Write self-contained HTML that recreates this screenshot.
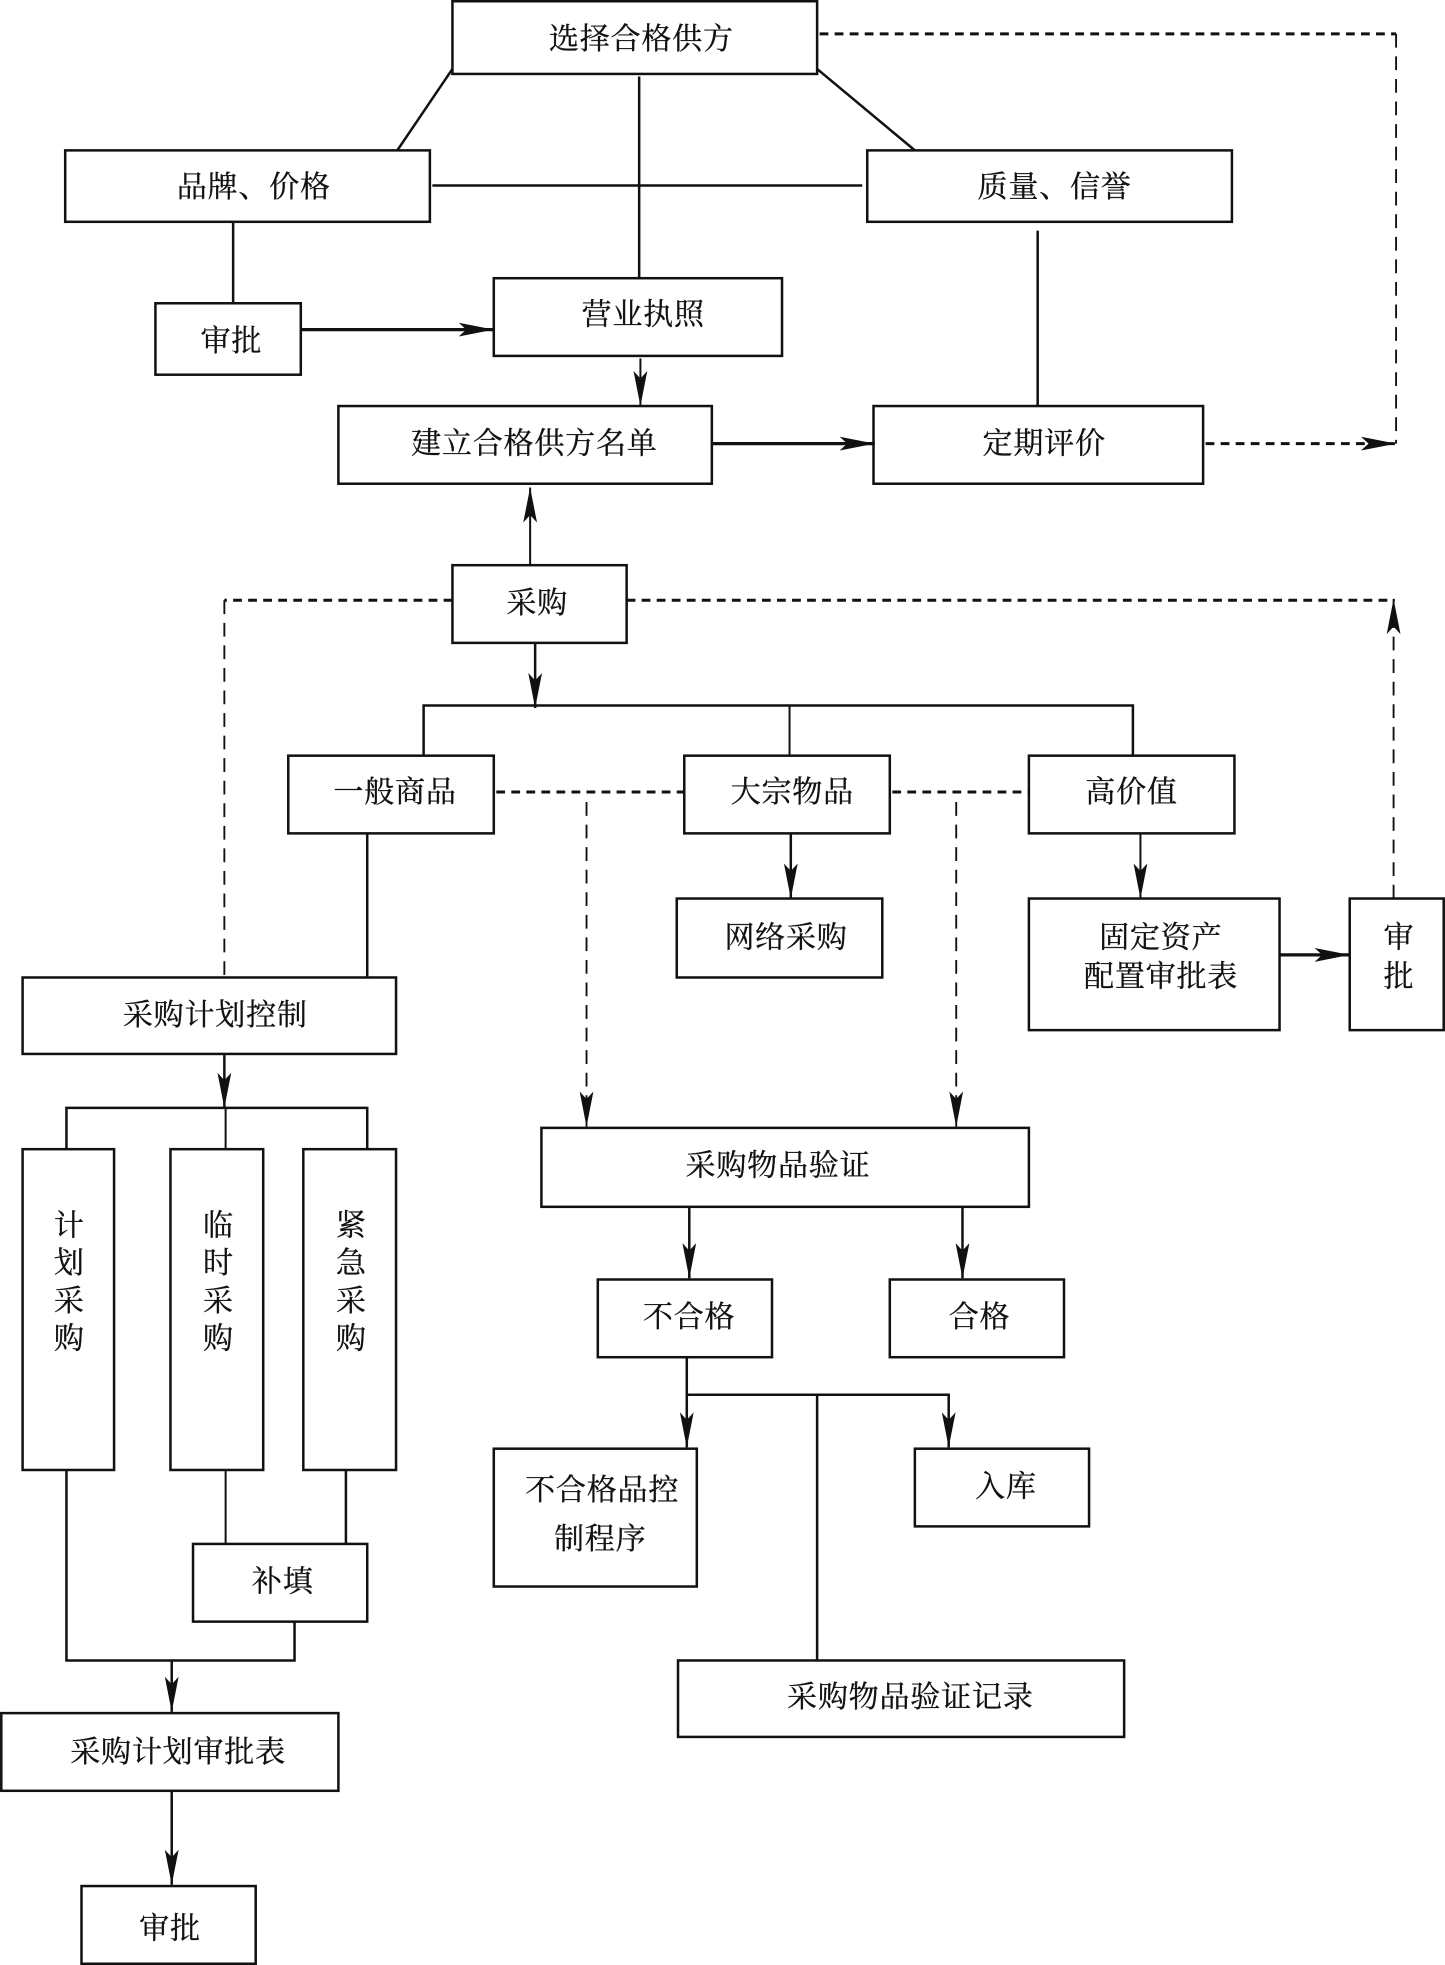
<!DOCTYPE html>
<html><head><meta charset="utf-8"><style>
html,body{margin:0;padding:0;background:#fff;width:1445px;height:1965px;overflow:hidden}
svg{display:block}
text{font-family:"Liberation Serif","Noto Serif CJK SC",serif;font-size:24px;fill:#111;stroke:#111;stroke-width:.25;letter-spacing:.6px}
rect{fill:none;stroke:#111;stroke-width:2}
line,polyline{fill:none;stroke:#111;stroke-width:2}
.d{stroke-dasharray:7 5;stroke-width:2.4}
.t{stroke-dasharray:11 7;stroke-width:1.5}
.h{stroke-width:2.6}
.n{stroke-width:1.6}
</style></head><body>
<svg width="1445" height="1965" viewBox="0 0 1153 1568" xmlns="http://www.w3.org/2000/svg">
<defs><marker id="a" markerUnits="userSpaceOnUse" markerWidth="30" markerHeight="14" refX="28" refY="7" orient="auto"><path d="M0 1.5L28 7L0 12.5L6 7Z" fill="#111"/></marker></defs>

<rect x="361" y="1" width="291" height="58"/>
<rect x="52" y="120" width="291" height="57"/>
<rect x="692" y="120" width="291" height="57"/>
<rect x="124" y="242" width="116" height="57"/>
<rect x="394" y="222" width="230" height="62"/>
<rect x="270" y="324" width="298" height="62"/>
<rect x="697" y="324" width="263" height="62"/>
<rect x="361" y="451" width="139" height="62"/>
<rect x="230" y="603" width="164" height="62"/>
<rect x="546" y="603" width="164" height="62"/>
<rect x="821" y="603" width="164" height="62"/>
<rect x="540" y="717" width="164" height="63"/>
<rect x="821" y="717" width="200" height="105"/>
<rect x="1077" y="717" width="75" height="105"/>
<rect x="18" y="780" width="298" height="61"/>
<rect x="18" y="917" width="73" height="256"/>
<rect x="136" y="917" width="74" height="256"/>
<rect x="242" y="917" width="74" height="256"/>
<rect x="432" y="900" width="389" height="63"/>
<rect x="477" y="1021" width="139" height="62"/>
<rect x="710" y="1021" width="139" height="62"/>
<rect x="394" y="1156" width="162" height="110"/>
<rect x="730" y="1156" width="139" height="62"/>
<rect x="154" y="1232" width="139" height="62"/>
<rect x="541" y="1325" width="356" height="61"/>
<rect x="1" y="1367" width="269" height="62"/>
<rect x="65" y="1505" width="139" height="62"/>

<line x1="361" y1="55" x2="317" y2="120"/>
<line x1="652" y1="55" x2="730" y2="120"/>
<line x1="510" y1="61" x2="510" y2="222"/>
<line x1="345" y1="148" x2="688" y2="148"/>
<line x1="186" y1="177" x2="186" y2="242"/>
<line x1="828" y1="184" x2="828" y2="324"/>
<line class="h" x1="240" y1="263" x2="394" y2="263" marker-end="url(#a)"/>
<line class="n" x1="511" y1="286" x2="511" y2="324" marker-end="url(#a)"/>
<line class="h" x1="568" y1="354" x2="698" y2="354" marker-end="url(#a)"/>
<line class="d" x1="654" y1="27" x2="1114" y2="27"/>
<line class="t" x1="1114" y1="27" x2="1114" y2="354"/>
<line class="d" x1="962" y1="354" x2="1114" y2="354" marker-end="url(#a)"/>
<line class="n" x1="423" y1="451" x2="423" y2="389" marker-end="url(#a)"/>
<line class="d" x1="361" y1="479" x2="179" y2="479"/>
<line class="t" x1="179" y1="479" x2="179" y2="780"/>
<line class="d" x1="500" y1="479" x2="1113" y2="479"/>
<line class="t" x1="1112" y1="717" x2="1112" y2="478" marker-end="url(#a)"/>
<line x1="427" y1="513" x2="427" y2="565" marker-end="url(#a)"/>
<polyline points="338,603 338,563 904,563 904,603"/>
<line class="n" x1="630" y1="563" x2="630" y2="603"/>
<line class="d" x1="396" y1="632" x2="546" y2="632"/>
<line class="d" x1="712" y1="632" x2="821" y2="632"/>
<line class="t" x1="468" y1="640" x2="468" y2="899" marker-end="url(#a)"/>
<line class="t" x1="763" y1="640" x2="763" y2="899" marker-end="url(#a)"/>
<line x1="631" y1="665" x2="631" y2="717" marker-end="url(#a)"/>
<line class="n" x1="910" y1="665" x2="910" y2="717" marker-end="url(#a)"/>
<line x1="293" y1="665" x2="293" y2="780"/>
<line class="h" x1="1021" y1="762" x2="1077" y2="762" marker-end="url(#a)"/>
<line x1="179" y1="841" x2="179" y2="884" marker-end="url(#a)"/>
<polyline points="53,917 53,884 293,884 293,917"/>
<line class="n" x1="180" y1="884" x2="180" y2="917"/>
<polyline points="53,1173 53,1325 235,1325 235,1294"/>
<line class="n" x1="180" y1="1173" x2="180" y2="1232"/>
<line x1="276" y1="1173" x2="276" y2="1232"/>
<line x1="137" y1="1325" x2="137" y2="1366" marker-end="url(#a)"/>
<line x1="137" y1="1429" x2="137" y2="1504" marker-end="url(#a)"/>
<line x1="550" y1="963" x2="550" y2="1020" marker-end="url(#a)"/>
<line x1="768" y1="963" x2="768" y2="1020" marker-end="url(#a)"/>
<line x1="548" y1="1083" x2="548" y2="1155" marker-end="url(#a)"/>
<polyline points="548,1113 757,1113 757,1155" marker-end="url(#a)"/>
<line x1="652" y1="1113" x2="652" y2="1325"/>

<text x="438" y="39">选择合格供方</text>
<text x="141" y="157">品牌、价格</text>
<text x="780" y="157">质量、信誉</text>
<text x="160" y="280">审批</text>
<text x="464" y="259">营业执照</text>
<text x="328" y="362">建立合格供方名单</text>
<text x="784" y="362">定期评价</text>
<text x="404" y="489">采购</text>
<text x="266" y="640">一般商品</text>
<text x="583" y="640">大宗物品</text>
<text x="866" y="640">高价值</text>
<text x="578" y="756">网络采购</text>
<text x="877" y="756">固定资产</text>
<text x="865" y="787">配置审批表</text>
<text x="1104" y="756">审</text>
<text x="1104" y="787">批</text>
<text x="98" y="818">采购计划控制</text>
<text x="43" y="986">计</text><text x="43" y="1016">划</text><text x="43" y="1046">采</text><text x="43" y="1076">购</text>
<text x="162" y="986">临</text><text x="162" y="1016">时</text><text x="162" y="1046">采</text><text x="162" y="1076">购</text>
<text x="268" y="986">紧</text><text x="268" y="1016">急</text><text x="268" y="1046">采</text><text x="268" y="1076">购</text>
<text x="547" y="938">采购物品验证</text>
<text x="513" y="1059">不合格</text>
<text x="757" y="1059">合格</text>
<text x="419" y="1197">不合格品控</text>
<text x="442" y="1236">制程序</text>
<text x="778" y="1194">入库</text>
<text x="201" y="1270">补填</text>
<text x="628" y="1362">采购物品验证记录</text>
<text x="56" y="1406">采购计划审批表</text>
<text x="111" y="1547">审批</text>
</svg>
</body></html>
